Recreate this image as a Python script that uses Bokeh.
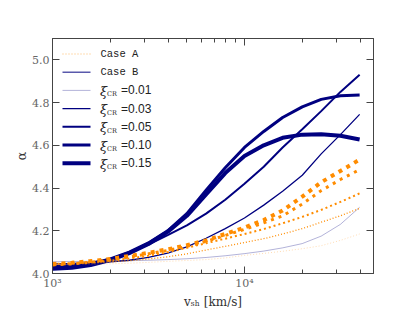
from bokeh.plotting import figure
from bokeh.models import (Range1d, LogAxis, LinearAxis, FixedTicker, Label,
                          Arrow, PrintfTickFormatter)
from bokeh.embed import file_html
from bokeh.resources import INLINE

# ---------------- data ----------------
v_sh = [1000, 1260, 1580, 2000, 2510, 3160, 3980, 5010, 6310, 7940,
        10000, 12600, 15800, 20000, 25100, 31600, 39800]

xi_labels = ["0.01", "0.03", "0.05", "0.10", "0.15"]

# Case B (solid navy)
caseB_xi001 = [4.055, 4.056, 4.057, 4.058, 4.060, 4.062, 4.065, 4.069, 4.075, 4.083,
               4.093, 4.105, 4.120, 4.140, 4.175, 4.230, 4.310]
caseB_xi003 = [4.045, 4.047, 4.050, 4.055, 4.062, 4.075, 4.095, 4.125, 4.165, 4.210,
               4.260, 4.320, 4.385, 4.460, 4.560, 4.650, 4.745]
caseB_xi005 = [4.035, 4.040, 4.050, 4.068, 4.095, 4.135, 4.180, 4.225, 4.280, 4.345,
               4.420, 4.500, 4.590, 4.675, 4.760, 4.850, 4.930]
caseB_xi010 = [4.027, 4.032, 4.045, 4.068, 4.100, 4.143, 4.200, 4.280, 4.390, 4.495,
               4.590, 4.665, 4.730, 4.780, 4.815, 4.832, 4.835]
caseB_xi015 = [4.022, 4.027, 4.040, 4.063, 4.095, 4.138, 4.195, 4.270, 4.370, 4.470,
               4.550, 4.600, 4.635, 4.650, 4.652, 4.645, 4.627]

# Case A (dotted orange)
caseA_xi001 = [4.040, 4.041, 4.043, 4.045, 4.048, 4.052, 4.057, 4.061, 4.065, 4.073,
               4.085, 4.094, 4.104, 4.116, 4.130, 4.155, 4.185]
caseA_xi003 = [4.045, 4.047, 4.050, 4.054, 4.060, 4.068, 4.078, 4.092, 4.110, 4.127,
               4.145, 4.163, 4.185, 4.210, 4.240, 4.270, 4.305]
caseA_xi005 = [4.045, 4.048, 4.053, 4.060, 4.070, 4.083, 4.100, 4.120, 4.142, 4.163,
               4.185, 4.208, 4.235, 4.265, 4.298, 4.335, 4.375]
caseA_xi010 = [4.040, 4.045, 4.053, 4.063, 4.077, 4.092, 4.108, 4.127, 4.150, 4.178,
               4.207, 4.237, 4.270, 4.325, 4.388, 4.440, 4.486]
caseA_xi015 = [4.045, 4.050, 4.058, 4.068, 4.082, 4.097, 4.113, 4.132, 4.155, 4.185,
               4.215, 4.250, 4.295, 4.360, 4.427, 4.480, 4.533]

x_major_ticks = [1000, 10000]
x_major_labels = ["10³", "10⁴"]
x_minor_ticks = [2000, 3000, 4000, 5000, 6000, 7000, 8000, 9000, 20000, 30000, 40000]
y_ticks = [4.0, 4.2, 4.4, 4.6, 4.8, 5.0]

caseA = [caseA_xi001, caseA_xi003, caseA_xi005, caseA_xi010, caseA_xi015]
caseB = [caseB_xi001, caseB_xi003, caseB_xi005, caseB_xi010, caseB_xi015]

# ---------------- styles ----------------
NAVY = "#000080"
ORANGE = "#ff8c00"
AXC = "#444444"
widths = [1.0, 1.3, 2.0, 3.0, 4.0]
fade = [0.3, 1.0, 1.0, 1.0, 1.0]
dots = ["1 2", "1 2", "2 3", "3 5", "4 5"]

p = figure(width=415, height=312, x_axis_type="log",
           x_range=Range1d(1000, 47000), y_range=Range1d(4.0, 5.1),
           output_backend="svg", toolbar_location=None,
           min_border_left=52, min_border_right=42,
           min_border_top=38, min_border_bottom=39)
p.xgrid.visible = False
p.ygrid.visible = False
p.outline_line_color = AXC
p.background_fill_color = "white"
p.border_fill_color = "white"

xt = FixedTicker(ticks=x_major_ticks, minor_ticks=x_minor_ticks)
yt = FixedTicker(ticks=y_ticks)
overrides = {t: s for t, s in zip(x_major_ticks, x_major_labels)}

def style_axis(ax, labels=True, minor=True):
    ax.axis_line_color = AXC
    ax.major_tick_line_color = AXC
    ax.minor_tick_line_color = AXC if minor else None
    ax.major_tick_in = 7
    ax.major_tick_out = 0
    ax.minor_tick_in = 4
    ax.minor_tick_out = 0
    ax.major_label_standoff = 3
    ax.major_label_text_font = "DejaVu Serif"
    ax.major_label_text_font_size = "11px"
    ax.major_label_text_color = "#666666"
    if not labels:
        ax.major_label_text_alpha = 0
    ax.axis_label_text_font = "DejaVu Serif"
    ax.axis_label_text_font_style = "normal"
    ax.axis_label_text_color = "#333333"
    ax.axis_label_standoff = 2

xa = p.xaxis[0]
xa.ticker = xt
xa.major_label_overrides = overrides
xa.axis_label = "vₛₕ [km/s]"
xa.axis_label_text_font_size = "12px"
style_axis(xa)

ya = p.yaxis[0]
ya.ticker = yt
ya.formatter = PrintfTickFormatter(format="%.1f")
ya.axis_label = "α"
ya.axis_label_text_font_size = "13px"
style_axis(ya, minor=False)
ya.axis_label_standoff = 0

top = LogAxis(ticker=xt)
style_axis(top, labels=False)
p.add_layout(top, "above")
right = LinearAxis(ticker=yt)
style_axis(right, labels=False, minor=False)
p.add_layout(right, "right")

for i in range(5):
    p.line(v_sh, caseB[i], line_color=NAVY, line_alpha=fade[i], line_width=widths[i])
for i in range(5):
    p.line(v_sh, caseA[i], line_color=ORANGE, line_alpha=fade[i],
           line_width=widths[i], line_dash=dots[i])

# ---------------- legend (screen units, relative to frame) ----------------
row0 = 219.5
dy = 18.2
rows = [("Case A", ORANGE, 0.6, 1.0, "1 2"),
        ("Case B", NAVY, 0.65, 1.5, "solid")]
for i in range(5):
    rows.append((xi_labels[i], NAVY, fade[i], widths[i], "solid"))

for k, (lab, col, al, lw, dash) in enumerate(rows):
    y = row0 - k * dy
    p.add_layout(Arrow(end=None, x_start=10, y_start=y, x_end=38, y_end=y,
                       start_units="screen", end_units="screen",
                       line_color=col, line_alpha=al, line_width=lw, line_dash=dash))
    if k < 2:
        p.add_layout(Label(x=48, y=y, x_units="screen", y_units="screen", text=lab,
                           text_font="Liberation Mono", text_font_size="10.5px",
                           text_baseline="middle", text_color="#222222"))
    else:
        p.add_layout(Label(x=47.5, y=y - 1, x_units="screen", y_units="screen", text="ξ",
                           text_font="DejaVu Serif", text_font_style="italic",
                           text_font_size="13px", text_baseline="middle",
                           text_color="#222222"))
        p.add_layout(Label(x=54.5, y=y - 4, x_units="screen", y_units="screen", text="CR",
                           text_font="DejaVu Serif", text_font_size="6.5px",
                           text_baseline="middle", text_color="#222222"))
        p.add_layout(Label(x=68.5, y=y, x_units="screen", y_units="screen", text="=" + lab,
                           text_font="Liberation Sans", text_font_size="12px",
                           text_baseline="middle", text_color="#222222"))

open("out.html", "w").write(file_html(p, INLINE))
